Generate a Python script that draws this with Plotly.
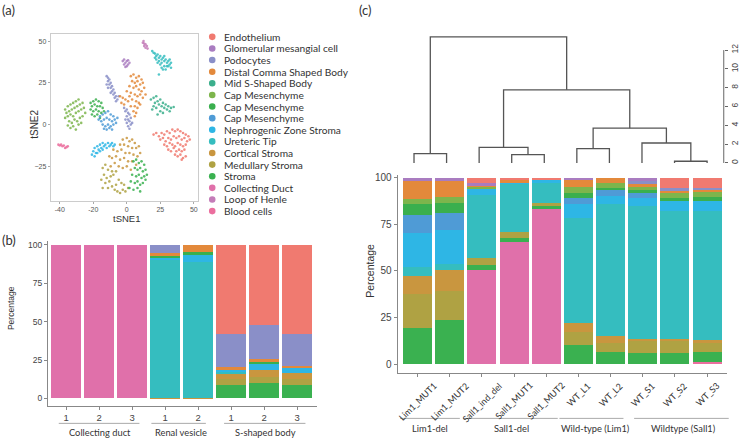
import plotly.graph_objects as go

W, H = 740, 438
LABEL_FONT = "Lato, 'Open Sans', sans-serif"
NUM_FONT = "'Liberation Sans', Arial, sans-serif"

# ---------------- data ----------------
cell_types = ["Endothelium", "Glomerular mesangial cell", "Podocytes", "Distal Comma Shaped Body",
              "Mid S-Shaped Body", "Cap Mesenchyme", "Cap Mesenchyme", "Cap Mesenchyme",
              "Nephrogenic Zone Stroma", "Ureteric Tip", "Cortical Stroma", "Medullary Stroma",
              "Stroma", "Collecting Duct", "Loop of Henle", "Blood cells"]
type_colors = ["#F07A70", "#A97CC0", "#8A8FC8", "#E3893B", "#3BAF8C", "#7DB54C", "#3AAF4E",
               "#4F9BD6", "#2EB6E5", "#35BDBF", "#C9963F", "#AFA243", "#3AB150", "#E070AA",
               "#C47CB8", "#EB6E9E"]

# panel (a): tSNE coordinates
tsne_endothelium = [(20,-6),(22,-5),(24,-7),(26,-5),(28,-6),(30,-4),(32,-5),(34,-3),(36,-4),(38,-3),(40,-4),(42,-5),
                    (44,-6),(46,-7),(25,-9),(27,-8),(29,-10),(31,-8),(33,-9),(35,-7),(37,-8),(39,-7),(41,-9),(43,-8),
                    (45,-10),(47,-9),(28,-12),(30,-13),(32,-11),(34,-12),(36,-13),(38,-11),(40,-12),(42,-13),(44,-12),
                    (31,-15),(33,-16),(35,-14),(37,-16),(39,-15),(41,-16),(43,-15),(36,-18),(38,-19),(40,-18),(42,-20),
                    (44,-19),(41,-21)]
tsne_glomerular = [(-3,38),(-2,39),(-1,37),(0,38),(1,36),(-2,36),(0,35),(2,37),(-1,34.5),(1,38.5)]
tsne_podocytes = [(-15,29),(-14,28),(-13,27),(-14,26),(-12,25),(-13,24),(-11,23),(-12,22),(-14,22),(-10,21),(-11,20),
                  (-9,19),(-10,18),(-8,17),(-9,16),(-7,15),(-8,14),(-12,19),(-6,17),(-15,24),
                  (-2,10),(0,9),(-1,8),(1,7),(2,6),(0,5),(3,4),(1,3),(2,2),(0,1),(3,0),(1,-1),(2,-2.5),(4,1),(-1,3)]
tsne_distal = [(3,29),(5,30),(7,28),(9,29),(11,27),(12,25),(4,26),(6,25),(8,26),(10,24),(2,23),(5,22),(7,23),(9,21),
               (11,20),(13,22),(0,20),(3,19),(6,18),(8,17),(10,18),(12,16),(-3,16),(-1,15),(1,14),(4,15),(7,14),(9,13),
               (-4,13),(-2,12),(3,11),(6,11),(8,10),(5,8),(7,7),(2,17),(14,18),(-5,17),(10,12),(6,5)]
tsne_mid_s = [(18,15),(20,16),(22,17),(21,13),(23,14),(25,15),(24,12),(26,11),(27,13),(28,10),(29,12),(30,9),(31,11),
              (33,10),(35,10.5),(22,10),(25,8),(27,7),(20,11),(32,8),(23,6),(19,9)]
tsne_cap1 = [(-46,9),(-44,11),(-42,12),(-40,13),(-38,14),(-36,15),(-45,7),(-43,8),(-41,9),(-39,10),(-37,11),(-35,12),
             (-33,13),(-46,4),(-44,5),(-42,6),(-40,5),(-38,7),(-36,8),(-34,9),(-32,10),(-43,2),(-41,1),(-39,3),(-37,2),
             (-35,4),(-33,5),(-42,-2),(-40,-1),(-38,-3),(-36,0),(-31,7),(-34,1),(-44,-0.5)]
tsne_cap2 = [(-27,13),(-25,14),(-23,15),(-21,14),(-19,13),(-26,11),(-24,12),(-22,11),(-20,11),(-18,10),(-27,9),(-25,8),
             (-23,9),(-21,8),(-19,7),(-24,5),(-22,6),(-20,4),(-17,8),(-26,6)]
tsne_cap3 = [(-20,5),(-18,6),(-16,7),(-14,8),(-12,6),(-10,5),(-19,2),(-17,3),(-15,4),(-13,3),(-11,2),(-9,3),(-18,0),
             (-16,-1),(-14,0),(-12,-1),(-10,0),(-8,1),(-15,-3),(-13,-2),(-11,-3),(-17,-2.5),(-21,3),(-7,4)]
tsne_nephrogenic = [(-25,-16),(-24,-14),(-23,-17),(-22,-13),(-21,-15),(-20,-12),(-19,-14),(-18,-11),(-17,-13),(-16,-12),
                    (-15,-14),(-14,-11),(-13,-13),(-12,-12),(-11,-11),(-10,-13),(-9,-12),(-26,-18),(-24,-19),(-22,-17),
                    (-20,-16),(-18,-15)]
tsne_ureteric = [(19,44),(20,43),(21,42.5),(22,41),(23,42),(24,40),(25,41),(26,39),(27,40),(28,38),(29,39),(30,37),
                 (31,38),(32,36),(33,37),(30,35),(28,35),(26,34),(25,36),(27,33),(29,33),(31,35),(24,38),(22,39),(21,40),
                 (23,37),(32,39),(33,34),(26,37),(28,41),(24,30)]
tsne_cortical = [(-3,-9),(0,-8),(2,-10),(4,-9),(6,-11),(-5,-12),(-2,-12),(1,-13),(4,-14),(7,-14),(9,-13),(-10,-15),
                 (-7,-16),(-4,-15),(-1,-17),(2,-17),(5,-18),(8,-19),(10,-17),(-13,-19),(-11,-20),(-8,-19),(-5,-21),
                 (-2,-20),(1,-22),(4,-22),(7,-24),(-9,-23),(-6,-25),(-3,-26),(0,-25),(3,-27),(-12,-25)]
tsne_medullary = [(-18,-26),(-16,-24),(-14,-27),(-17,-30),(-15,-32),(-19,-33),(-16,-35),(-13,-34),(-11,-37),(-14,-38),
                  (-9,-39),(-7,-40),(-5,-41),(-3,-39),(-1,-40),(1,-38),(-10,-30),(-8,-28),(-12,-31),(-6,-33),(-4,-35),
                  (-8,-36),(-2,-36),(-18,-38),(-11,-28)]
tsne_stroma = [(5,-22),(7,-21),(9,-23),(11,-22),(13,-24),(6,-26),(8,-27),(10,-26),(12,-28),(14,-27),(4,-30),(7,-31),
               (9,-30),(11,-32),(13,-31),(15,-30),(3,-34),(6,-35),(8,-34),(10,-36),(12,-35),(2,-38),(5,-39),(8,-38),
               (10,-40),(14,-33)]
tsne_loop = [(12,49),(13,48.5),(14,48),(13,47),(15,47),(14,46),(12.5,50),(15.5,45.5)]
tsne_blood = [(-51,-12),(-50,-12.5),(-49,-12),(-48,-13),(-47,-12.5),(-46,-14),(-45,-13.5),(-44,-13)]
tsne_groups = [(0, tsne_endothelium), (1, tsne_glomerular), (2, tsne_podocytes), (3, tsne_distal), (4, tsne_mid_s),
               (5, tsne_cap1), (6, tsne_cap2), (7, tsne_cap3), (8, tsne_nephrogenic), (9, tsne_ureteric),
               (10, tsne_cortical), (11, tsne_medullary), (12, tsne_stroma), (14, tsne_loop), (15, tsne_blood)]
tsne_x_ticks = [-50, -25, 0, 25, 50]
tsne_x_ticktext = ["-40", "-20", "0", "25", "50"]
tsne_y_ticks = [-25, 0, 25, 50]

# panel (b): composition per sample, in cell_types order
b_labels = ["1", "2", "3", "1", "2", "1", "2", "3"]
b_composition = [
    [0, 0, 0, 0, 0, 0, 0, 0, 0, 0, 0, 0, 0, 100, 0, 0],
    [0, 0, 0, 0, 0, 0, 0, 0, 0, 0, 0, 0, 0, 100, 0, 0],
    [0, 0, 0, 0, 0, 0, 0, 0, 0, 0, 0, 0, 0, 100, 0, 0],
    [0, 0, 5.0, 2.2, 0, 0, 1.1, 0, 1.7, 89.5, 0.5, 0, 0, 0, 0, 0],
    [0, 0, 0, 4.8, 0, 0, 1.1, 0, 5.4, 88.2, 0.5, 0, 0, 0, 0, 0],
    [58.3, 0, 21.5, 1.0, 0, 0, 0, 0, 2.2, 1.0, 3.5, 4.0, 8.5, 0, 0, 0],
    [52.3, 0, 21.7, 2.2, 0, 0, 1.0, 0, 4.3, 0, 4.8, 3.9, 9.8, 0, 0, 0],
    [58.1, 0, 20.7, 1.5, 0, 0, 0, 0, 2.8, 0, 4.3, 3.7, 8.9, 0, 0, 0],
]
b_groups = ["Collecting duct", "Renal vesicle", "S-shaped body"]

# panel (c)
c_samples = ["Lim1_MUT1", "Lim1_MUT2", "Sall1_ind_del", "Sall1_MUT1", "Sall1_MUT2",
             "WT_L1", "WT_L2", "WT_S1", "WT_S2", "WT_S3"]
c_composition = [
    [0, 1.8, 0, 9.3, 0, 2.9, 6.0, 9.4, 18.7, 4.8, 9.4, 18.2, 19.5, 0, 0, 0],
    [0, 1.6, 0, 8.6, 0, 3.4, 5.5, 8.9, 18.4, 3.2, 11.0, 15.5, 23.9, 0, 0, 0],
    [2.7, 0.9, 0, 0.9, 0, 0.9, 0, 0, 3.9, 33.8, 0, 3.6, 2.7, 50.6, 0, 0],
    [1.4, 0, 0, 0.7, 0, 0, 0, 0, 1.4, 25.8, 0, 3.2, 2.1, 65.4, 0, 0],
    [1.4, 0, 0, 0, 0, 0, 0, 0, 0.7, 11.2, 0, 1.8, 0.9, 84.0, 0, 0],
    [0, 0.5, 0, 4.3, 0, 3.2, 2.7, 3.6, 7.1, 56.7, 4.8, 7.1, 10.0, 0, 0, 0],
    [0, 0, 0, 3.0, 0, 2.3, 1.4, 3.0, 4.5, 70.8, 3.6, 5.0, 6.4, 0, 0, 0],
    [0, 0.9, 2.3, 1.6, 0, 1.8, 1.8, 2.3, 4.5, 71.2, 1.2, 6.5, 5.9, 0, 0, 0],
    [5.7, 0, 1.1, 1.2, 0, 2.7, 1.8, 0, 5.3, 68.6, 1.2, 6.5, 5.9, 0, 0, 0],
    [5.3, 0, 1.1, 1.2, 0, 2.7, 2.1, 0, 5.3, 69.5, 1.0, 5.6, 5.1, 0, 0, 1.1],
]
c_groups = ["Lim1-del", "Sall1-del", "Wild-type (Lim1)", "Wildtype (Sall1)"]
# dendrogram merges: (left node, right node, height); leaves 0-9, merged nodes numbered from 10
c_merges = [(0, 1, 1.0), (3, 4, 0.89), (2, 11, 1.66), (5, 6, 1.52), (8, 9, 0.18),
            (7, 14, 2.12), (13, 15, 3.7), (12, 16, 7.77), (10, 17, 13.4)]
dendro_ticks = [0, 2, 4, 6, 8, 10, 12]
pct_ticks = [0, 25, 50, 75, 100]


def pxx(p):
    return p / W


def pxy(p):
    return 1 - p / H


fig = go.Figure()

# ---- panel (a) scatter
for idx, pts in tsne_groups:
    fig.add_trace(go.Scatter(x=[p[0] for p in pts], y=[p[1] for p in pts], mode="markers",
                             marker=dict(size=2.6, color=type_colors[idx], opacity=0.85),
                             xaxis="x", yaxis="y", showlegend=False, hoverinfo="skip"))

# ---- panel (b) stacked bars (bottom = last cell type)
for t in reversed(range(len(cell_types))):
    fig.add_trace(go.Bar(x=list(range(len(b_labels))), y=[row[t] for row in b_composition],
                         marker=dict(color=type_colors[t], line=dict(width=0)), width=0.89,
                         xaxis="x2", yaxis="y2", showlegend=False, name=cell_types[t]))

# ---- panel (c) stacked bars
for t in reversed(range(len(cell_types))):
    fig.add_trace(go.Bar(x=list(range(len(c_samples))), y=[row[t] for row in c_composition],
                         marker=dict(color=type_colors[t], line=dict(width=0)), width=0.9,
                         xaxis="x3", yaxis="y3", showlegend=False, name=cell_types[t]))

# ---- dendrogram
pos = {i: float(i) for i in range(len(c_samples))}
hgt = {i: 0.0 for i in range(len(c_samples))}
dx, dy = [], []
for k, (a, b, h) in enumerate(c_merges):
    node = len(c_samples) + k
    dx += [pos[a], pos[a], pos[b], pos[b], None]
    dy += [hgt[a], h, h, hgt[b], None]
    pos[node] = (pos[a] + pos[b]) / 2
    hgt[node] = h
fig.add_trace(go.Scatter(x=dx, y=dy, mode="lines", line=dict(color="#555555", width=1.3),
                         xaxis="x4", yaxis="y4", showlegend=False, hoverinfo="skip"))

axis_common = dict(showgrid=False, zeroline=False)
fig.update_layout(
    width=W, height=H, margin=dict(l=0, r=0, t=0, b=0),
    paper_bgcolor="white", plot_bgcolor="white", barmode="stack",
    xaxis=dict(domain=[pxx(51), pxx(199)], range=[-56.7, 53.3], tickvals=tsne_x_ticks, ticktext=tsne_x_ticktext,
               showline=True, mirror=True, linecolor="#cccccc", linewidth=1, ticks="outside", ticklen=2,
               tickcolor="#aaaaaa", tickfont=dict(family=NUM_FONT, size=7, color="#555"), anchor="y", **axis_common),
    yaxis=dict(domain=[pxy(200), pxy(31.7)], range=[-45.8, 54.5], tickvals=tsne_y_ticks,
               showline=True, mirror=True, linecolor="#cccccc", linewidth=1, ticks="outside", ticklen=2,
               tickcolor="#aaaaaa", tickfont=dict(family=NUM_FONT, size=7, color="#555"), anchor="x", **axis_common),
    xaxis2=dict(domain=[pxx(48.1), pxx(318.2)], range=[-0.55, 7.6], tickvals=list(range(len(b_labels))),
                ticktext=b_labels, showline=True, linecolor="#888", linewidth=1, ticks="outside", ticklen=3,
                tickcolor="#888", tickfont=dict(family=NUM_FONT, size=9.5, color="#444"), anchor="y2", **axis_common),
    yaxis2=dict(domain=[pxy(405.7), pxy(240)], range=[-4.8, 102.6], tickvals=pct_ticks, showline=True,
                linecolor="#888", linewidth=1, ticks="outside", ticklen=3, tickcolor="#888",
                tickfont=dict(family=NUM_FONT, size=8.5, color="#444"), anchor="x2", **axis_common),
    xaxis3=dict(domain=[pxx(399.3), pxx(730)], range=[-0.616, 9.62], tickvals=list(range(len(c_samples))),
                showticklabels=False, showline=True, linecolor="#888", linewidth=1, ticks="outside", ticklen=3,
                tickcolor="#888", anchor="y3", **axis_common),
    yaxis3=dict(domain=[pxy(373), pxy(173.3)], range=[-4.97, 101.8], tickvals=pct_ticks, showline=True,
                linecolor="#888", linewidth=1, ticks="outside", ticklen=3, tickcolor="#888",
                tickfont=dict(family=NUM_FONT, size=10, color="#444"), anchor="x3", **axis_common),
    xaxis4=dict(domain=[pxx(399.3), pxx(730)], range=[-0.5015, 9.612], visible=False, anchor="y4"),
    yaxis4=dict(domain=[pxy(163), pxy(30)], range=[-0.1376, 13.937], tickvals=dendro_ticks, side="right",
                anchor="free", position=pxx(726.7), showline=False, ticks="outside", ticklen=3, tickcolor="#666",
                tickangle=-90, tickfont=dict(family=NUM_FONT, size=8.5, color="#444"), **axis_common),
)

shapes = []
ann = []


def text(t, x, y, size, family=LABEL_FONT, angle=0, xanchor="center", yanchor="middle", xref="paper"):
    ann.append(dict(text=t, x=x, y=y, xref=xref, yref="paper", xanchor=xanchor, yanchor=yanchor,
                    textangle=angle, showarrow=False, font=dict(family=family, size=size, color="#333")))


# dendrogram axis line (0..12)
shapes.append(dict(type="line", xref="paper", yref="y4", x0=pxx(726.7), x1=pxx(726.7), y0=0, y1=12,
                   line=dict(color="#666", width=1)))

# legend of panel (a)
for i, name in enumerate(cell_types):
    yc = 35 + 11.67 * i
    shapes.append(dict(type="circle", xref="paper", yref="paper", x0=pxx(209.8), x1=pxx(216.4),
                       y0=pxy(yc + 3.3), y1=pxy(yc - 3.3), fillcolor=type_colors[i], line=dict(width=0)))
    text(name, pxx(222.5), pxy(yc), 10.2, xanchor="left")

# panel labels
for lab, x, y in [("(a)", 0, 8), ("(b)", 0, 239), ("(c)", 358, 8)]:
    text(lab, pxx(x), pxy(y), 13, xanchor="left")

# axis titles
text("tSNE1", pxx(127), pxy(217), 9.5, family=NUM_FONT)
text("tSNE2", pxx(34.5), pxy(123), 10, family=NUM_FONT, angle=-90)
text("Percentage", pxx(10.5), pxy(307), 8.5, family=NUM_FONT, angle=-90)
text("Percentage", pxx(371.5), pxy(270), 10.5, family=NUM_FONT, angle=-90)

# panel (b) group lines and labels
for name, (x0, x1), xc in zip(b_groups, [(59, 140), (152, 206.7), (225, 306.7)], [100, 182, 266.7]):
    shapes.append(dict(type="line", xref="paper", yref="paper", x0=pxx(x0), x1=pxx(x1), y0=pxy(423.3),
                       y1=pxy(423.3), line=dict(color="#aaaaaa", width=1)))
    text(name, pxx(xc), pxy(432.5), 9.3)

# panel (c) sample labels
for i, s in enumerate(c_samples):
    text(s, i, pxy(377), 9, angle=-45, yanchor="top", xref="x3")

# panel (c) group lines and labels
for name, (x0, x1), xc in zip(c_groups, [(401.7, 461.7), (465, 560), (561.7, 626), (636.7, 731.7)],
                              [431.7, 513.3, 598.3, 686.7]):
    shapes.append(dict(type="line", xref="paper", yref="paper", x0=pxx(x0), x1=pxx(x1), y0=pxy(418.3),
                       y1=pxy(418.3), line=dict(color="#aaaaaa", width=1)))
    text(name, pxx(xc), pxy(428.5), 9.3)

fig.update_layout(shapes=shapes, annotations=ann)
fig.write_html("out.html", config={"displayModeBar": False},
               post_script="document.body.style.margin='0px';")
